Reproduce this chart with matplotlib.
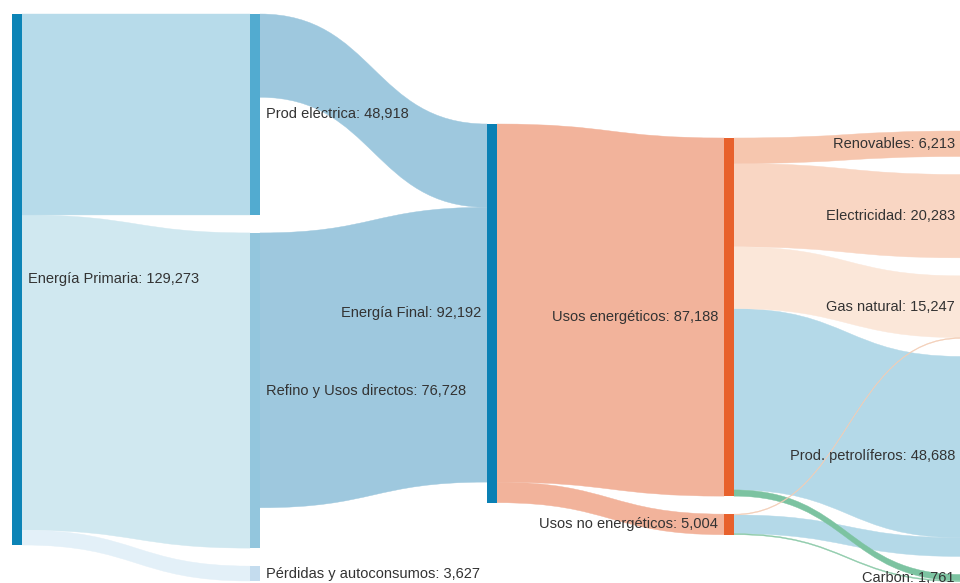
import matplotlib
matplotlib.use("Agg")
import matplotlib.pyplot as plt
from matplotlib.path import Path
from matplotlib.patches import PathPatch, Rectangle

# Nodes of the energy balance
node_names = ["Energía Primaria", "Prod eléctrica", "Refino y Usos directos",
              "Pérdidas y autoconsumos", "Energía Final", "Usos energéticos",
              "Usos no energéticos", "Renovables", "Electricidad", "Gas natural",
              "Prod. petrolíferos", "Carbón"]
node_columns = [0, 1, 1, 1, 2, 3, 3, 4, 4, 4, 4, 4]

# Flows (source index, target index, value)
sources = [0, 0, 0, 1, 2, 4, 4, 5, 5, 5, 5, 5, 6, 6, 6]
targets = [1, 2, 3, 4, 4, 5, 6, 7, 8, 9, 10, 11, 9, 10, 11]
values = [48918, 76728, 3627, 20283, 66900, 87188, 5004,
          6213, 20283, 15047, 44134, 1511, 200, 4554, 250]

node_colors = ["#0c84b6", "#52abd0", "#93c6dd", "#c4dcee", "#0a80b4",
               "#e8612c", "#e8612c", "#e8612c", "#e8612c", "#e8612c",
               "#e8612c", "#e8612c"]
link_colors = ["#b7dbea", "#d0e8f0", "#e3f0f8", "#9ec8de", "#9ec8de",
               "#f2b39b", "#f2b39b", "#f6c6ae", "#f9d6c3", "#fbe7d9",
               "#b4d9e8", "#7cc3a1", "#f3cdb5", "#b4d9e8", "#8ccaa9"]

# layout (pixels of the 960x583 canvas)
VPP = 129273 / 531.0          # value units per pixel
col_left = [12, 250, 487, 724, 961]
col_top = [14, 14, 124, 138, 131]
node_w = 10
gap = 18

n = len(node_names)
inflow = [0] * n
outflow = [0] * n
for s, t, v in zip(sources, targets, values):
    outflow[s] += v
    inflow[t] += v
size = [max(a, b) for a, b in zip(inflow, outflow)]

# stack nodes inside each column
top = [0.0] * n
cursor = {c: col_top[c] * VPP for c in range(5)}
for i in range(n):
    c = node_columns[i]
    top[i] = cursor[c]
    cursor[c] += size[i] + gap * VPP

fig = plt.figure(figsize=(9.6, 5.83), dpi=100)
ax = fig.add_axes([0, 0, 1, 1])
ax.set_xlim(0, 960)
ax.set_ylim(583 * VPP, 0)
ax.axis("off")

# link end positions
out_pos = top[:]
in_pos = top[:]
link_geom = [None] * len(values)
order_out = sorted(range(len(values)), key=lambda k: (sources[k], top[targets[k]]))
for k in order_out:
    s = sources[k]
    y0 = out_pos[s]
    out_pos[s] += values[k]
    link_geom[k] = [y0]
order_in = sorted(range(len(values)), key=lambda k: (targets[k], top[sources[k]]))
for k in order_in:
    t = targets[k]
    y1 = in_pos[t]
    in_pos[t] += values[k]
    link_geom[k].append(y1)

for k in sorted(range(len(values)), key=lambda k: -values[k]):
    s, t, v = sources[k], targets[k], values[k]
    y0, y1 = link_geom[k]
    x0 = col_left[node_columns[s]] + node_w
    x1 = col_left[node_columns[t]]
    xm = (x0 + x1) / 2
    verts = [(x0, y0), (xm, y0), (xm, y1), (x1, y1),
             (x1, y1 + v), (xm, y1 + v), (xm, y0 + v), (x0, y0 + v), (x0, y0)]
    codes = [Path.MOVETO, Path.CURVE4, Path.CURVE4, Path.CURVE4,
             Path.LINETO, Path.CURVE4, Path.CURVE4, Path.CURVE4, Path.CLOSEPOLY]
    ax.add_patch(PathPatch(Path(verts, codes), facecolor=link_colors[k],
                           edgecolor=link_colors[k], lw=0.3))

for i in range(n):
    c = node_columns[i]
    ax.add_patch(Rectangle((col_left[c], top[i]), node_w, size[i],
                           facecolor=node_colors[i], edgecolor="none"))
    label = f"{node_names[i]}: {size[i]:,}"
    yc = top[i] + size[i] / 2
    if c < 2:
        ax.text(col_left[c] + node_w + 6, yc, label, ha="left", va="center",
                fontsize=10.5, color="#333333", family="Liberation Sans")
    else:
        ax.text(col_left[c] - 6, yc, label, ha="right", va="center",
                fontsize=10.5, color="#333333", family="Liberation Sans")

fig.savefig("out.png", dpi=100)
